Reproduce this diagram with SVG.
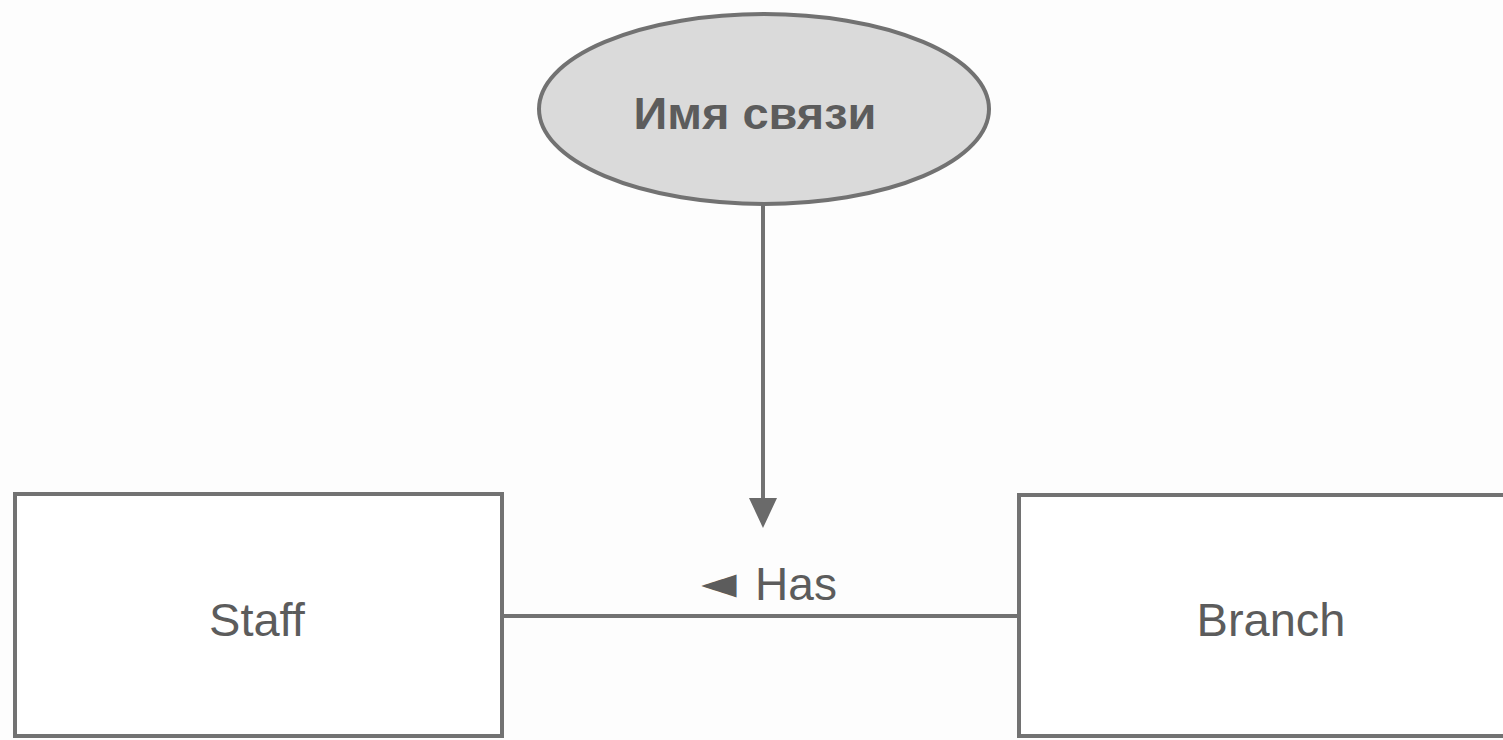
<svg xmlns="http://www.w3.org/2000/svg" width="1503" height="740" viewBox="0 0 1503 740">
  <defs>
    <style>
      .shape { stroke: #727272; stroke-width: 4; }
      .box { fill: #ffffff; }
      .label { font-family: "Liberation Sans", Arial, sans-serif; fill: #5c5c5c; text-anchor: middle; }
      .conn { stroke: #727272; stroke-width: 4; fill: none; }
    </style>
    <marker id="arrow" viewBox="0 0 30 28" refX="0" refY="14" markerWidth="30" markerHeight="28" markerUnits="userSpaceOnUse" orient="auto">
      <polygon points="0,0 30,14 0,28" fill="#6a6a6a"/>
    </marker>
  </defs>

  <rect x="0" y="0" width="1503" height="740" fill="#fdfdfd"/>

  <!-- connectors -->
  <g id="connectors">
    <line class="conn" x1="763" y1="205" x2="763" y2="498" marker-end="url(#arrow)"/>
    <line class="conn" x1="503" y1="616" x2="1019" y2="616"/>
    <!-- reading direction pointer and relationship label, each centred on its own x -->
    <text class="label" y="600" font-size="46"><tspan x="719" font-family="DejaVu Sans, sans-serif" font-size="46" dy="-2">◄</tspan><tspan x="796" dy="2">Has</tspan></text>
  </g>

  <!-- relationship name -->
  <g id="relationship-name">
    <ellipse class="shape" cx="764" cy="109" rx="225" ry="95" fill="#dadada"/>
    <text class="label" x="755" y="129" font-size="44" font-weight="bold" textLength="243" lengthAdjust="spacingAndGlyphs">Имя связи</text>
  </g>

  <!-- entity: Staff -->
  <g id="staff">
    <rect class="shape box" x="15" y="494" width="487" height="242"/>
    <text class="label" x="257" y="636" font-size="47">Staff</text>
  </g>

  <!-- entity: Branch -->
  <g id="branch">
    <rect class="shape box" x="1019" y="495" width="500" height="241"/>
    <text class="label" x="1271" y="636" font-size="47">Branch</text>
  </g>
</svg>
